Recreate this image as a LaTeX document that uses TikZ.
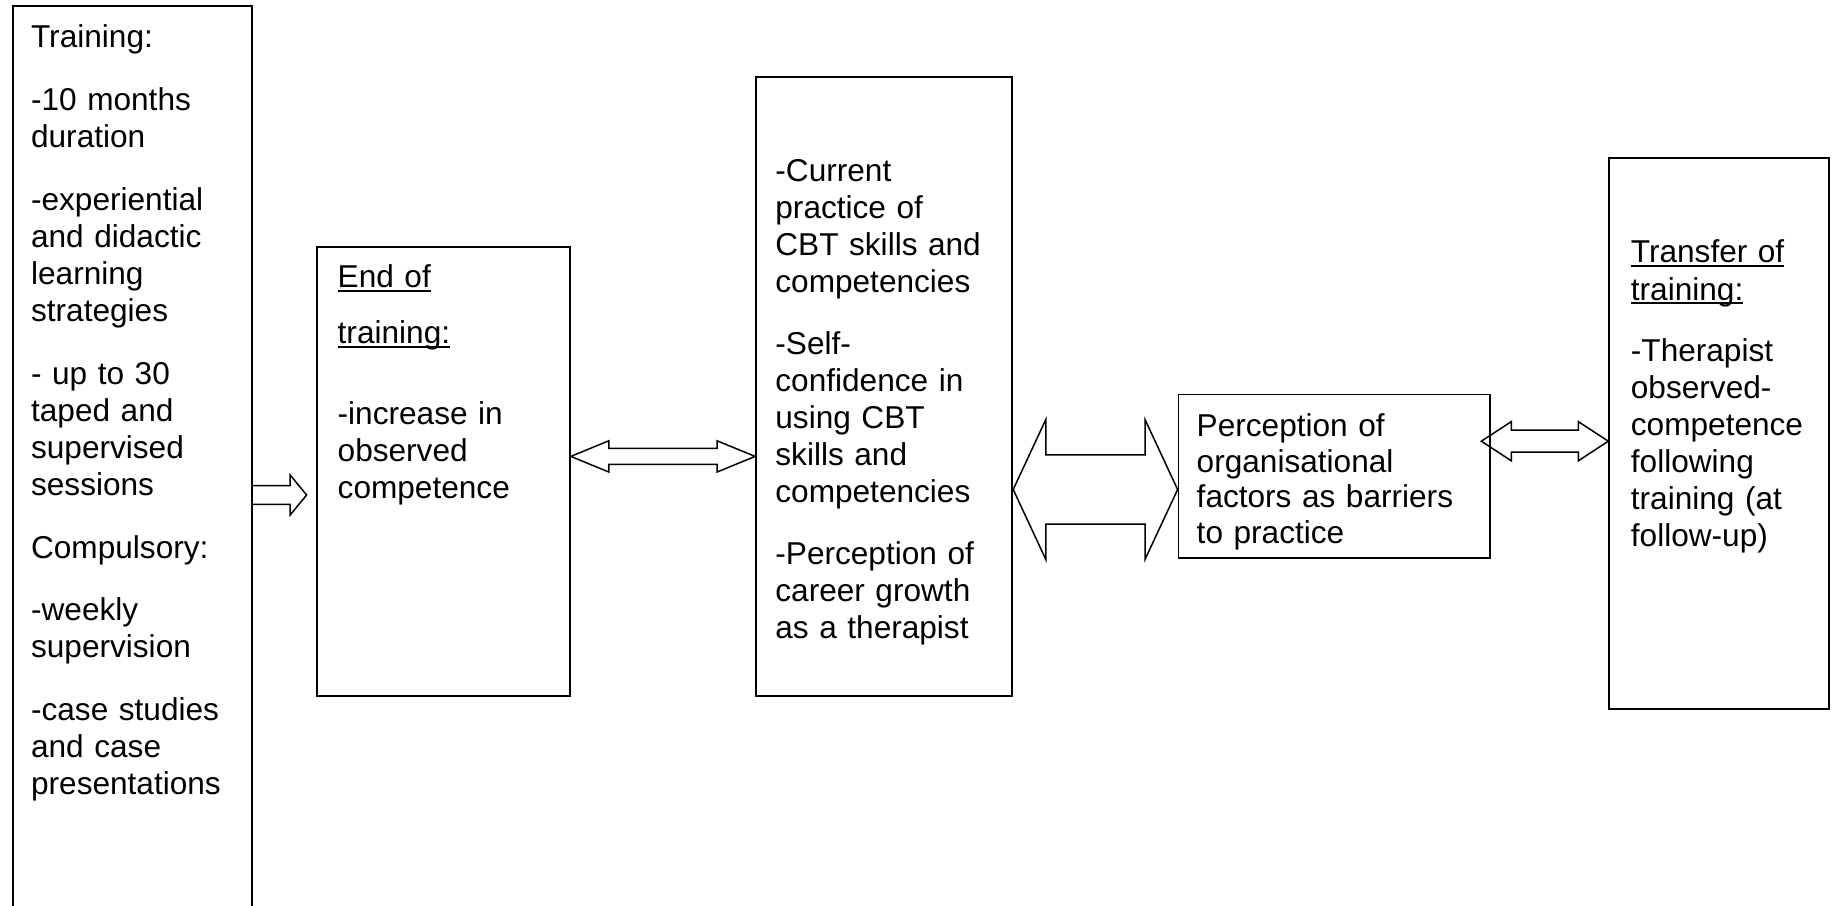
\documentclass[tikz,border=0pt]{standalone}
\usepackage{fontspec}
\setmainfont{Liberation Sans}
\usetikzlibrary{positioning,fit,calc}

% hollow block arrows between two points
\newcommand\sglarrow[5]{%
  \draw[blockarrow] let \p1=(#1), \p2=(#2) in
    (\x1,\y1+#3) -- (\x2-#5,\y1+#3) -- (\x2-#5,\y1+#4) -- (\x2,\y1)
    -- (\x2-#5,\y1-#4) -- (\x2-#5,\y1-#3) -- (\x1,\y1-#3);}
\newcommand\dblarrow[5]{%
  \draw[blockarrow] let \p1=(#1), \p2=(#2) in
    (\x1,\y1) -- (\x1+#5,\y1+#4) -- (\x1+#5,\y1+#3) -- (\x2-#5,\y1+#3)
    -- (\x2-#5,\y1+#4) -- (\x2,\y1) -- (\x2-#5,\y1-#4) -- (\x2-#5,\y1-#3)
    -- (\x1+#5,\y1-#3) -- (\x1+#5,\y1-#4) -- cycle;}
\newcommand\ulword[1]{\leavevmode\setbox0\hbox{#1}\rlap{\rule[-2pt]{\wd0}{0.8pt}}\box0}

\begin{document}
\begin{tikzpicture}[x=0.5pt,y=-0.5pt,font=\fontsize{15.8pt}{18.55pt}\selectfont,
  box/.style={draw,line width=0.9pt,inner sep=0pt},
  boxtext/.style={anchor=base west,inner sep=0pt,text width=160pt,align=left},
  blockarrow/.style={line width=0.75pt,line join=miter}]

  \useasboundingbox (0,0) rectangle (1835,905);

  % the five boxes
  \node[box,fit={(12.9,5.9) (251.6,930)}] (train) {};
  \node[box,fit={(317.2,246.9) (569.9,696.3)}] (endtr) {};
  \node[box,fit={(756,77.2) (1012.3,696.3)}] (curr) {};
  \node[box,fit={(1178.5,394.4) (1489.8,558.2)}] (org) {};
  \node[box,fit={(1609.2,158) (1829.2,709.2)}] (transf) {};

  % texts
  \node[boxtext] (txttrain) at ($(train.north west)+(18.7,42.6)$)
    {Training:\\[12.8pt] -10 months\\ duration\\[12.8pt] -experiential\\ and didactic\\
     learning\\ strategies\\[12.8pt] - up to 30\\ taped and\\ supervised\\ sessions\\[12.8pt]
     Compulsory:\\[12.8pt] -weekly\\ supervision\\[12.8pt] -case studies\\ and case\\ presentations};
  \node[boxtext] (txtendtr) at ($(endtr.north west)+(21,41.5)$)
    {\ulword{End of}\\[9.5pt] \ulword{training:}\\[21.8pt] -increase in\\ observed\\ competence};
  \node[boxtext] (txtcurr) at ($(curr.north west)+(19.9,104.7)$)
    {-Current\\ practice of\\ CBT skills and\\ competencies\\[12.4pt] -Self-\\ confidence in\\
     using CBT\\ skills and\\ competencies\\[12.4pt] -Perception of\\ career growth\\ as a therapist};
  \node[boxtext,font=\fontsize{15.8pt}{17.95pt}\selectfont] (txtorg) at ($(org.north west)+(18.7,42.6)$)
    {Perception of\\ organisational\\ factors as barriers\\ to practice};
  \node[boxtext] (txttransf) at ($(transf.north west)+(22.2,105.8)$)
    {\ulword{Transfer of}\\ \ulword{training:}\\[12pt] -Therapist\\ observed-\\ competence\\
     following\\ training (at\\ follow-up)};

  % levels of the arrows
  \coordinate (y1) at (0,495);
  \coordinate (a1tip) at (306.6,495);
  \coordinate (y2) at (0,456.4);
  \coordinate (y3) at (0,489.5);
  \coordinate (y4) at (0,441.2);

  % arrows
  \sglarrow{train.east |- y1}{a1tip}{4.7pt}{10pt}{8.2pt}
  \dblarrow{endtr.east |- y2}{curr.west |- y2}{4pt}{7.8pt}{19pt}
  \dblarrow{curr.east |- y3}{org.west |- y3}{17.3pt}{35pt}{16.3pt}
  \dblarrow{$(org.east |- y4)+(-9.4,0)$}{transf.west |- y4}{5.5pt}{9.8pt}{15pt}

\end{tikzpicture}
\end{document}
